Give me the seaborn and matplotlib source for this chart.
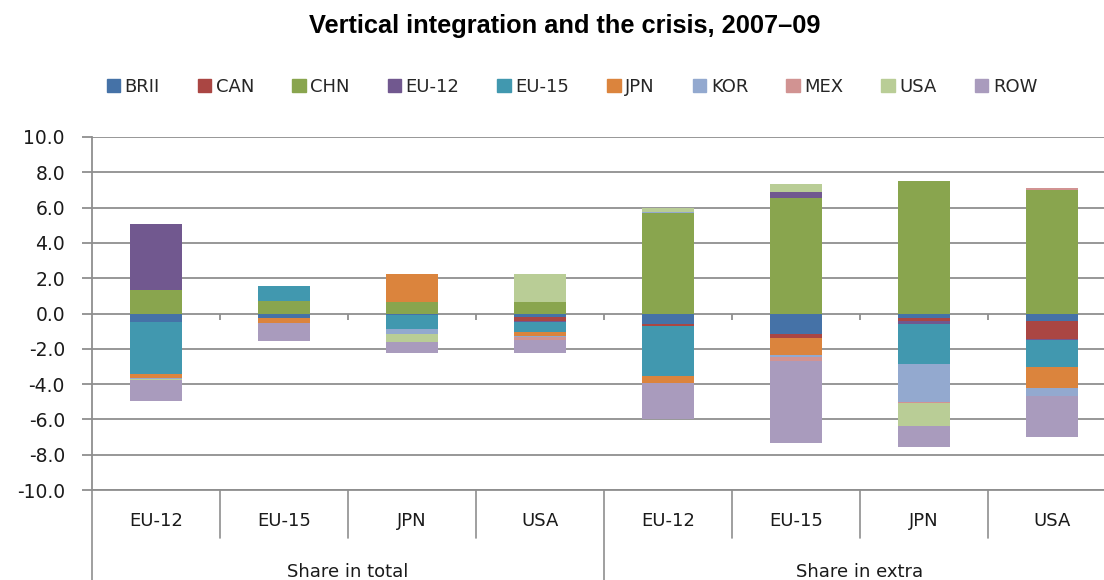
# %%
import numpy as np
import pandas as pd
import seaborn as sns
import matplotlib.pyplot as plt
import matplotlib.patches as mpatches
from matplotlib.transforms import blended_transform_factory

# %%
bar_labels = ["EU-12", "EU-15", "JPN", "USA", "EU-12", "EU-15", "JPN", "USA"]
group_labels = ["Share in total", "Share in extra"]
series = ["BRII", "CAN", "CHN", "EU-12", "EU-15", "JPN", "KOR", "MEX", "USA", "ROW"]
colors = ["#4572A7", "#AA4643", "#89A54E", "#71588F", "#4198AF",
          "#DB843D", "#93A9CF", "#D19392", "#B9CD96", "#A99BBD"]

brii = [-0.50, -0.23, -0.10, -0.20, -0.60, -1.16, -0.27, -0.41]
can = [0.00, -0.03, 0.00, -0.25, -0.11, -0.21, -0.15, -1.04]
chn = [1.35, 0.71, 0.67, 0.67, 5.70, 6.56, 7.52, 7.00]
eu12 = [3.70, 0.00, 0.00, -0.05, 0.00, 0.31, -0.19, -0.05]
eu15 = [-2.93, 0.85, -0.75, -0.55, -2.83, 0.00, -2.27, -1.51]
jpn = [-0.20, -0.30, 1.55, -0.20, -0.38, -0.98, 0.00, -1.19]
kor = [-0.07, 0.00, -0.32, -0.10, 0.07, -0.13, -2.12, -0.46]
mex = [0.00, 0.00, 0.00, -0.15, 0.00, -0.21, -0.09, 0.10]
usa = [-0.08, 0.00, -0.43, 1.55, 0.20, 0.45, -1.28, 0.00]
row = [-1.20, -1.00, -0.62, -0.72, -2.08, -4.67, -1.18, -2.32]

# %%
sns.set_style("white")
plt.rcParams["font.family"] = ["DejaVu Sans"]
plt.rcParams["axes.unicode_minus"] = False

values = np.array([brii, can, chn, eu12, eu15, jpn, kor, mex, usa, row])
pos_cum = np.clip(values, 0, None).cumsum(axis=0)
neg_cum = np.clip(values, None, 0).cumsum(axis=0)
bar_pos = list(range(len(bar_labels)))

fig = plt.figure(figsize=(11.04, 5.8), dpi=100)
ax = fig.add_axes([92 / 1104, 90 / 580, 1024 / 1104, 353 / 580])

# stacked bars: draw cumulative sums from the outermost series inward
for i in range(len(series) - 1, -1, -1):
    for cum in (pos_cum, neg_cum):
        df = pd.DataFrame({"bar": bar_pos, "value": cum[i]})
        sns.barplot(data=df, x="bar", y="value", color=colors[i], width=0.4,
                    saturation=1, errorbar=None, linewidth=0, ax=ax)

grid_gray = "#8f8f8f"
text_col = "#1a1a1a"
ax.set_ylim(-10, 10)
ax.set_xlim(-0.5, len(bar_labels) - 0.5)
ax.set_yticks(np.arange(-10, 10.1, 2))
ax.set_yticklabels([f"{v:.1f}" for v in np.arange(-10, 10.1, 2)])
ax.yaxis.grid(True, color=grid_gray, lw=1.3)
ax.set_axisbelow(True)
ax.tick_params(axis="y", direction="out", length=7.5, width=1.3, color=grid_gray,
               labelsize=13.5, labelcolor=text_col, left=True, pad=12)
ax.set_xticks(bar_pos)
ax.set_xticklabels(bar_labels, fontsize=13, color=text_col)
ax.tick_params(axis="x", length=0, pad=16)
ax.set_xlabel("")
ax.set_ylabel("")
for side in ["top", "right"]:
    ax.spines[side].set_visible(False)
for side in ["left", "bottom"]:
    ax.spines[side].set_color(grid_gray)
    ax.spines[side].set_linewidth(1.3)

# little ticks on the zero line between categories
bounds = np.arange(0.5, len(bar_labels) - 0.5, 1)
ax.vlines(bounds, -0.35, 0, color=grid_gray, lw=1.3)

# two-level category axis
trans = blended_transform_factory(ax.transData, ax.transAxes)
for b in bounds:
    if b == 3.5:
        continue
    ax.plot([b, b], [0, -0.137], transform=trans, color=grid_gray, lw=1.2, clip_on=False)
for b in [-0.5, 3.5, 7.5]:
    ax.plot([b, b], [0, -0.27], transform=trans, color=grid_gray, lw=1.2, clip_on=False)
ax.text(1.5, -0.233, group_labels[0], transform=trans, ha="center", va="center",
        fontsize=13, color=text_col)
ax.text(5.5, -0.233, group_labels[1], transform=trans, ha="center", va="center",
        fontsize=13, color=text_col)

# legend
handles = [mpatches.Patch(color=c, label=s) for s, c in zip(series, colors)]
fig.legend(handles=handles, loc="center", bbox_to_anchor=(0.518, 1 - 87 / 580),
           ncol=10, frameon=False, handlelength=0.75, handleheight=0.75,
           handletextpad=0.25, columnspacing=2.1,
           prop={"size": 13})

fig.text(0.512, 1 - 26 / 580, "Vertical integration and the crisis, 2007\u201309",
         ha="center", va="center", fontsize=18.3, fontweight="bold", color="black",
         family=["Liberation Sans", "DejaVu Sans"])

plt.savefig("out.png", dpi=100)
